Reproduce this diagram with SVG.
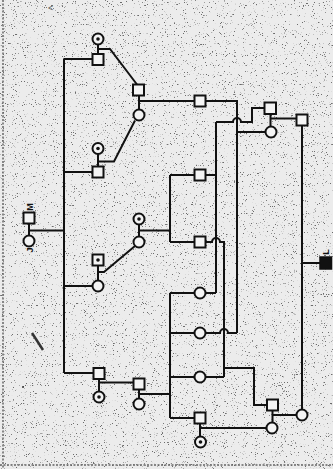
<svg xmlns="http://www.w3.org/2000/svg" width="333" height="469" viewBox="0 0 333 469">
<style>
.bg{fill:#ececec}
.sym{fill:#f4f4f4;stroke:#111;stroke-width:2}
.dot{fill:#111}
.black{fill:#111;stroke:#111;stroke-width:1.5}
.ln{fill:none;stroke:#111;stroke-width:2;stroke-linejoin:miter}
.lbl{font-family:"Liberation Sans",Arial,sans-serif;font-size:9px;font-weight:bold;fill:#111}
.scan{fill:none;stroke:#666;stroke-width:1.5;stroke-dasharray:2 1.5}
</style>
<defs>
<filter id="speckle" x="0" y="0" width="100%" height="100%">
<feTurbulence type="fractalNoise" baseFrequency="0.9" numOctaves="2" seed="7" result="t"/>
<feColorMatrix in="t" type="matrix" values="0 0 0 0 0  0 0 0 0 0  0 0 0 0 0  -10 0 0 0 3.4"/>
</filter>
</defs>
<rect class="bg" x="0" y="0" width="333" height="469"/>
<rect x="0" y="0" width="333" height="469" fill="#000" filter="url(#speckle)" opacity="0.55"/>
<g id="scan-marks">
<line class="scan" x1="3" y1="0" x2="3" y2="469"/>
<line class="scan" x1="0" y1="465" x2="333" y2="465"/>
<line x1="32" y1="333" x2="43" y2="350" stroke="#333" stroke-width="2.5"/>
<circle cx="23" cy="387" r="1" fill="#333"/>
<text x="48" y="11" style="font-family:'Liberation Sans',Arial,sans-serif;font-size:9px;fill:#555">&lt;</text>
</g>
<g id="connectors">
<path class="ln" d="M64,59 V373"/>
<path class="ln" d="M64,59 H92.5"/>
<path class="ln" d="M64,172 H92.5"/>
<path class="ln" d="M29,223.5 V235.5 M29,230.5 H64"/>
<path class="ln" d="M64,286 H92.5"/>
<path class="ln" d="M64,373 H93.5"/>
<path class="ln" d="M98,44.5 V54.5 M98,49 H110 L137,84.5"/>
<path class="ln" d="M139,95.5 V109.5 M139,101 H194.5 M205.5,101 H237 V333"/>
<path class="ln" d="M98,154 V166.5 M98,161.5 H114 L135,120.5"/>
<path class="ln" d="M98,265.5 V280.5 M98,272 H104 L135,246"/>
<path class="ln" d="M139,224.5 V236.5 M139,230.5 H170"/>
<path class="ln" d="M170,175 V242 M170,175 H194.5 M205.5,175 H216"/>
<path class="ln" d="M170,242 H194.5 M205.5,242 H212 A4,4 0 0 1 220,242 H224 V377"/>
<path class="ln" d="M216,122 V293 M216,122 H233 A4,4 0 0 1 241,122 H252 V108 H264.5"/>
<path class="ln" d="M170,293 H194.5 M205.5,293 H216"/>
<path class="ln" d="M170,293 V418 M170,333 H194.5 M170,377 H194.5 M170,418 H194.5"/>
<path class="ln" d="M205.5,333 H220 A4,4 0 0 1 228,333 H237"/>
<path class="ln" d="M237,132 H265.5"/>
<path class="ln" d="M270.5,113.5 V126.5 M270.5,118.5 H296.5"/>
<path class="ln" d="M205.5,377 H224"/>
<path class="ln" d="M224,368 H254 V405 H267"/>
<path class="ln" d="M272.5,410.5 V422.5 M272.5,415 H296.5"/>
<path class="ln" d="M302,125.5 V409.5 M302,263 H320"/>
<path class="ln" d="M200,423.5 V436.5 M200,428 H266.5"/>
<path class="ln" d="M99,379 V391.5 M99,382.5 H133.5"/>
<path class="ln" d="M139,389.5 V398.5 M139,394 H170"/>
</g>
<g id="n-c1"><circle class="sym" cx="98" cy="39" r="5.5"/><circle class="dot" cx="98" cy="39" r="1.8"/></g>
<g id="n-s1"><rect class="sym" x="92.5" y="54" width="11" height="11"/></g>
<g id="n-s2"><rect class="sym" x="133" y="84.5" width="11" height="11"/></g>
<g id="n-c2"><circle class="sym" cx="139" cy="115" r="5.5"/></g>
<g id="n-s3"><rect class="sym" x="194.5" y="95.5" width="11" height="11"/></g>
<g id="n-s4"><rect class="sym" x="264.5" y="102.5" width="11.5" height="11.5"/></g>
<g id="n-c4"><circle class="sym" cx="271" cy="132" r="5.5"/></g>
<g id="n-s5"><rect class="sym" x="296.5" y="114.5" width="11" height="11"/></g>
<g id="n-c3"><circle class="sym" cx="98" cy="148.5" r="5.5"/><circle class="dot" cx="98" cy="148.5" r="1.8"/></g>
<g id="n-s6"><rect class="sym" x="92.5" y="166.5" width="11" height="11"/></g>
<g id="n-m"><rect class="sym" x="23.5" y="212.5" width="11" height="11"/><text class="lbl" transform="translate(32.5,207) rotate(-90)" text-anchor="middle">M</text></g>
<g id="n-j"><circle class="sym" cx="29" cy="241" r="5.5"/><text class="lbl" transform="translate(33,250) rotate(-90)" text-anchor="middle">J</text></g>
<g id="n-c6"><circle class="sym" cx="139" cy="219" r="5.5"/><circle class="dot" cx="139" cy="219" r="1.8"/></g>
<g id="n-c7"><circle class="sym" cx="139" cy="242" r="5.5"/></g>
<g id="n-s8"><rect class="sym" x="92.5" y="254.5" width="11" height="11"/><circle class="dot" cx="98" cy="260" r="1.8"/></g>
<g id="n-c8"><circle class="sym" cx="98" cy="286" r="5.5"/></g>
<g id="n-s9"><rect class="sym" x="194.5" y="169.5" width="11" height="11"/></g>
<g id="n-s10"><rect class="sym" x="194.5" y="236.5" width="11" height="11"/></g>
<g id="n-c9"><circle class="sym" cx="200" cy="293" r="5.5"/></g>
<g id="n-c10"><circle class="sym" cx="200" cy="333" r="5.5"/></g>
<g id="n-c11"><circle class="sym" cx="200" cy="377" r="5.5"/></g>
<g id="n-s13"><rect class="sym" x="194.5" y="412.5" width="11" height="11"/></g>
<g id="n-c14"><circle class="sym" cx="200.5" cy="442" r="5.5"/><circle class="dot" cx="200.5" cy="442" r="1.8"/></g>
<g id="n-s11"><rect class="sym" x="93.5" y="368" width="11" height="11"/></g>
<g id="n-c12"><circle class="sym" cx="99" cy="397" r="5.5"/><circle class="dot" cx="99" cy="397" r="1.8"/></g>
<g id="n-s12"><rect class="sym" x="133.5" y="378.5" width="11" height="11"/></g>
<g id="n-c13"><circle class="sym" cx="139" cy="404" r="5.5"/></g>
<g id="n-s14"><rect class="sym" x="267" y="399.5" width="11" height="11"/></g>
<g id="n-c15"><circle class="sym" cx="272" cy="428" r="5.5"/></g>
<g id="n-c16"><circle class="sym" cx="302" cy="415" r="5.5"/></g>
<g id="n-l"><rect class="black" x="320" y="257" width="11.5" height="12"/><text class="lbl" transform="translate(329,252) rotate(-90)" text-anchor="middle">L</text></g>
</svg>
